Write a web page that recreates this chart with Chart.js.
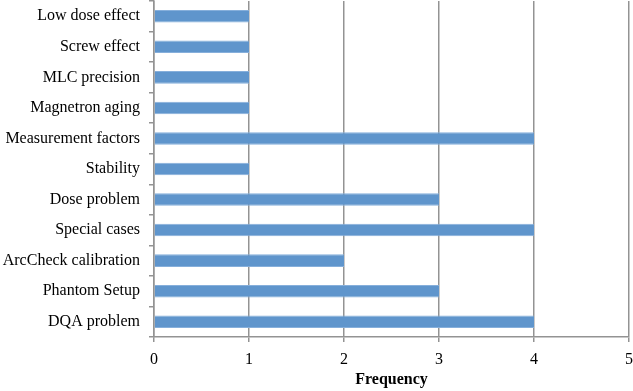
<!DOCTYPE html>
<html>
<head>
<meta charset="utf-8">
<script src="https://cdn.jsdelivr.net/npm/chart.js@4/dist/chart.umd.min.js"></script>
<style>
    html, body { margin: 0; padding: 0; background: #ffffff; }
    #wrap { width: 633px; height: 391px; position: relative; }
</style>
</head>
<body>
<div id="wrap"><canvas id="freq-chart"></canvas></div>
<script>
// categories, top to bottom as in the figure
const categories = [
    'Low dose effect', 'Screw effect', 'MLC precision', 'Magnetron aging',
    'Measurement factors', 'Stability', 'Dose problem', 'Special cases',
    'ArcCheck calibration', 'Phantom Setup', 'DQA problem'
];
const frequency = [1, 1, 1, 1, 4, 1, 3, 4, 2, 3, 4];
const xTicks = [0, 1, 2, 3, 4, 5];

const serif = "'Liberation Serif', 'DejaVu Serif', serif";
const gridGray = '#939393';

const ctx = document.getElementById('freq-chart').getContext('2d');
new Chart(ctx, {
    type: 'bar',
    data: {
        labels: categories,
        datasets: [{
            data: frequency,
            backgroundColor: '#5f95cc',
            borderColor: '#86afdb',
            borderWidth: { top: 1, bottom: 1, left: 0, right: 0 },
            borderSkipped: false,
            categoryPercentage: 1,
            barPercentage: 0.41
        }]
    },
    options: {
        indexAxis: 'y',
        responsive: true,
        maintainAspectRatio: false,
        animation: false,
        layout: { padding: { top: 1, right: 4, bottom: 2, left: 0 } },
        plugins: {
            legend: { display: false },
            tooltip: { enabled: false }
        },
        scales: {
            x: {
                min: xTicks[0],
                max: xTicks[xTicks.length - 1],
                afterBuildTicks: (scale) => {
                    scale.ticks = xTicks.map(v => ({ value: v }));
                },
                afterFit: (scale) => {
                    scale.height = 52;
                    scale.paddingLeft = 0;
                    scale.paddingRight = 0;
                },
                grid: { color: gridGray, lineWidth: 1.5, tickLength: 5 },
                border: { color: gridGray, width: 1.5 },
                ticks: {
                    color: '#000',
                    padding: 8,
                    font: { family: serif, size: 16 }
                },
                title: {
                    display: true,
                    text: 'Frequency',
                    color: '#000',
                    padding: 0,
                    font: { family: serif, size: 16, weight: 'bold' }
                }
            },
            y: {
                afterFit: (scale) => {
                    scale.width = 154;
                    scale.paddingTop = 0;
                    scale.paddingBottom = 0;
                },
                grid: { drawOnChartArea: false, color: gridGray, lineWidth: 1.5, tickLength: 5, offset: true },
                border: { color: gridGray, width: 1.5 },
                ticks: {
                    color: '#000',
                    padding: 9,
                    autoSkip: false,
                    font: { family: serif, size: 16 }
                }
            }
        }
    }
});
</script>
</body>
</html>
